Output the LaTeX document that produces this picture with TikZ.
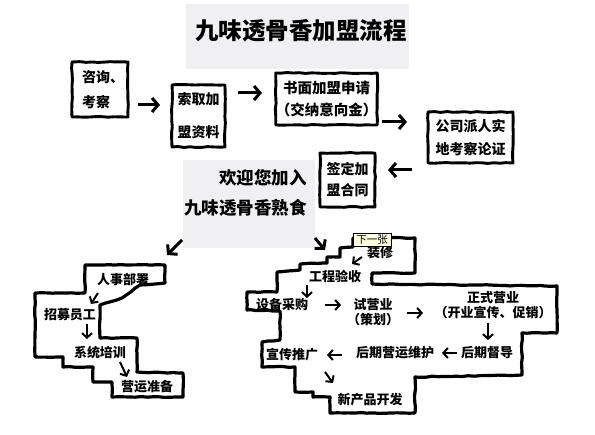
\documentclass[tikz,border=0pt]{standalone}
\usepackage{fontspec}
\newfontfamily\cjk{Noto Sans CJK SC}
\usetikzlibrary{arrows.meta,decorations.pathmorphing}
\definecolor{bggray}{RGB}{240,240,242}
\definecolor{tipyellow}{RGB}{255,255,225}
\begin{document}
\begin{tikzpicture}[x=1pt,y=-1pt,
  rough/.style={decorate,decoration={random steps,segment length=6pt,amplitude=0.45pt}},
  box/.style={draw,line width=2.9pt,rough,line join=round,inner sep=0pt,align=center},
  boxfont/.style={font=\cjk\bfseries\fontsize{14}{#1}\selectfont},
  lbl/.style={inner sep=0pt,align=center,font=\cjk\bfseries\fontsize{13}{15}\selectfont},
  arr/.style={line width=3pt,-{Straight Barb[length=6pt,width=14pt]}},
  sarr/.style={line width=2pt,-{Straight Barb[length=4.5pt,width=10pt]}},
  outline/.style={draw,line width=3.2pt,rough,line join=round,fill=white},
  graybg/.style={fill=bggray,draw=none,inner sep=0pt}]
\pgfmathsetseed{7}
\useasboundingbox[fill=white] (0,0) rectangle (595,435);

% title
\node[graybg,minimum width=223,minimum height=65] (tbg) at (297.5,36.5) {};
\node[inner sep=0pt,font=\cjk\bfseries\fontsize{23.5}{25}\selectfont] (title) at (301,31) {九味透骨香加盟流程};

% top boxes
\node[box,boxfont=25,minimum width=56,minimum height=55,text width=36,align=left] (b1) at (100,89.5) {咨询、\\考察};
\node[box,boxfont=33,minimum width=53,minimum height=62] (b2) at (198.5,116) {索取加\\盟资料};
\node[box,boxfont=22,minimum width=97,minimum height=52,font=\cjk\bfseries\fontsize{14.5}{22}\selectfont] (b3) at (326.5,99) {书面加盟申请\\（交纳意向金）};
\node[box,boxfont=23,minimum width=85,minimum height=51] (b4) at (470.5,137.5) {公司派人实\\地考察论证};
\node[box,boxfont=21,minimum width=55,minimum height=54] (b5) at (347.5,180) {签定加\\盟合同};

\draw[arr] ([shift={(38,15.5)}]b1.center) -- ([shift={(-38.5,-11)}]b2.center);
\draw[arr] ([shift={(39.5,-23)}]b2.center) -- ([shift={(-64.5,-6)}]b3.center);
\draw[arr] ([shift={(55.5,23)}]b3.center) -- ([shift={(-63.5,-15.5)}]b4.center);
\draw[arr] ([shift={(-58.5,32.5)}]b4.center) -- ([shift={(40.5,-10)}]b5.center);

% welcome
\node[graybg,minimum width=132,minimum height=88] (wel) at (249,204) {};
\node[inner sep=0pt,anchor=east,font=\cjk\bfseries\fontsize{17.5}{20}\selectfont] (w1) at (307,178) {欢迎您加入};
\node[inner sep=0pt,anchor=east,font=\cjk\bfseries\fontsize{17.5}{20}\selectfont] (w2) at (307,208) {九味透骨香熟食};

% left shape
\path[outline] (85,265) -- (165,265) -- (165,283) -- (140,285) -- (122,298) -- (100,305) -- (100,338) -- (137,338) -- (137,372) -- (183,373) -- (183,397) -- (112,397) -- (112,382) -- (93,382) -- (93,367) -- (63,367) -- (63,357) -- (35,357) -- (35,293) -- (85,293) -- cycle;
\node[lbl] (rs) at (123,280) {人事部署};
\node[lbl] (zm) at (70,315) {招募员工};
\node[lbl] (xt) at (100,353) {系统培训};
\node[lbl] (yy) at (147,387) {营运准备};
\draw[sarr] ([shift={(-25,13)}]rs.center) -- ([shift={(21,-11)}]zm.center);
\draw[sarr] ([shift={(17,9)}]zm.center) -- ([shift={(-13,-14)}]xt.center);
\draw[sarr] ([shift={(20,9)}]xt.center) -- ([shift={(-20,-10)}]yy.center);

% right shape
\path[outline] (353,247) -- (353,238) -- (415,238) -- (415,273) -- (372,273) -- (372,284) -- (557,286) -- (557,333) -- (522,333) -- (522,375) -- (415,377) -- (415,413) -- (330,413) -- (330,397) -- (313,397) -- (313,392) -- (295,392) -- (295,367) -- (262,367) -- (262,342) -- (280,340) -- (280,311) -- (247,310) -- (247,292) -- (277,292) -- (277,272) -- (300,270) -- (300,264) -- (327,263) -- (327,257) -- (340,257) -- (340,248) -- cycle;
\node[lbl] (zx) at (380,253) {装修};
\node[lbl] (gc) at (335,277) {工程验收};
\node[lbl] (sb) at (282,305) {设备采购};
\node[lbl] (sy) at (373,312.5) {试营业\\（策划）};
\node[lbl] (zs) at (493,305) {正式营业\\（开业宣传、促销）};
\node[lbl] (hd) at (487,353) {后期督导};
\node[lbl] (hw) at (395,353) {后期营运维护};
\node[lbl] (xc) at (292,355) {宣传推广};
\node[lbl] (xp) at (370,400) {新产品开发};

\draw[sarr] ([shift={(-18,4)}]zx.center) -- ([shift={(17,-13)}]gc.center);
\draw[sarr] ([shift={(-28,8)}]gc.center) -- ([shift={(25,-7)}]sb.center);
\draw[sarr] ([shift={(43,0)}]sb.center) -- ([shift={(-32,-7.5)}]sy.center);
\draw[sarr] ([shift={(34,0.5)}]sy.center) -- ([shift={(-70,8)}]zs.center);
\draw[sarr] ([shift={(-5,18)}]zs.center) -- ([shift={(1,-13)}]hd.center);
\draw[sarr] ([shift={(-30,0)}]hd.center) -- ([shift={(47,0)}]hw.center);
\draw[sarr] ([shift={(-53,2)}]hw.center) -- ([shift={(35,0)}]xc.center);
\draw[sarr] ([shift={(33,17)}]xc.center) -- ([shift={(-37,-17)}]xp.center);

% arrows from welcome
\draw[arr] ([shift={(-67,36)}]wel.center) -- ([shift={(44,-25)}]rs.center);
\draw[arr] ([shift={(66,34)}]wel.center) -- ([shift={(-55,-3)}]zx.center);

% tooltip
\node[draw=black,line width=0.8pt,fill=tipyellow,inner sep=1.5pt,minimum width=38,minimum height=13,font=\cjk\fontsize{10.5}{12}\selectfont] (tip) at (372,239.5) {下一张};
\end{tikzpicture}
\end{document}
